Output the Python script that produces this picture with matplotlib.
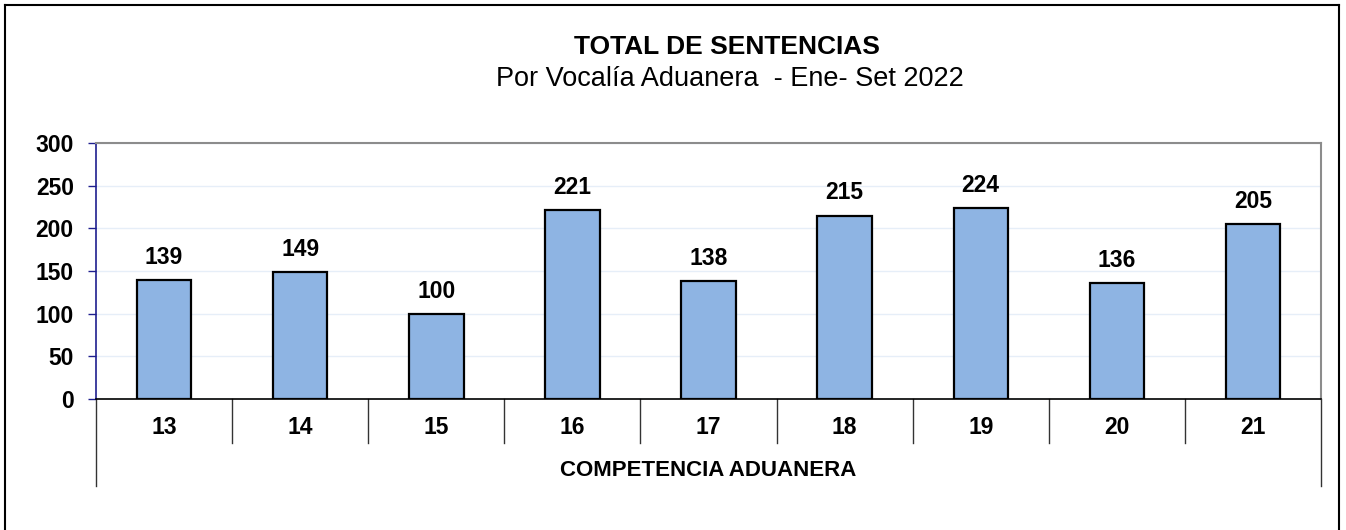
import matplotlib
matplotlib.use('Agg')
import matplotlib.pyplot as plt
import matplotlib.transforms as mtransforms
from matplotlib.lines import Line2D
import numpy as np

plt.rcParams['font.family'] = ['Liberation Sans', 'DejaVu Sans']

# data
categories = ['13', '14', '15', '16', '17', '18', '19', '20', '21']
sentencias = [139, 149, 100, 221, 138, 215, 224, 136, 205]
title = 'TOTAL DE SENTENCIAS'
subtitle = 'Por Vocalía Aduanera  - Ene- Set 2022'
xlabel = 'COMPETENCIA ADUANERA'
yticks = [0, 50, 100, 150, 200, 250, 300]

W, H = 1346, 530
fig = plt.figure(figsize=(W / 100, H / 100), dpi=100)

# plot area in pixel coords
left, right, top, bottom = 96, 1321, 143, 399
ax = fig.add_axes([left / W, 1 - bottom / H, (right - left) / W, (bottom - top) / H])

x = np.arange(len(categories))
ax.bar(x, sentencias, width=0.4, color='#8EB4E3', edgecolor='black', linewidth=1.6, zorder=3)
for xi, v in zip(x, sentencias):
    ax.text(xi, v + 13, str(v), ha='center', va='bottom', fontsize=16.5, fontweight='bold')

ax.set_xlim(-0.5, len(categories) - 0.5)
ax.set_ylim(0, 300)
ax.set_yticks(yticks)
ax.set_yticklabels([str(t) for t in yticks], fontsize=16.5, fontweight='bold')
ax.tick_params(axis='y', direction='out', length=6, width=1, color='#1F1F8F', pad=10)
ax.set_xticks([])
ax.grid(axis='y', color='#E6EEF8', linewidth=1, zorder=0)

ax.spines['left'].set_color('#1F1F8F')
ax.spines['left'].set_linewidth(1.2)
ax.spines['top'].set_color('#8C8C8C')
ax.spines['right'].set_color('#8C8C8C')
ax.spines['top'].set_linewidth(1.5)
ax.spines['right'].set_linewidth(1.5)
ax.spines['bottom'].set_color('black')
ax.spines['bottom'].set_linewidth(1.2)

# category table below axis
trans = mtransforms.blended_transform_factory(ax.transData, ax.transAxes)
plot_h = bottom - top
sep_low = -(443 - bottom) / plot_h
outer_low = -(486 - bottom) / plot_h
for b in np.arange(0.5, len(categories) - 1, 1.0):
    ax.add_line(Line2D([b, b], [0, sep_low], transform=trans, color='#333333', linewidth=1, clip_on=False))
for b in [-0.5, len(categories) - 0.5]:
    ax.add_line(Line2D([b, b], [0, outer_low], transform=trans, color='#333333', linewidth=1, clip_on=False))
for xi, c in zip(x, categories):
    ax.text(xi, -(427 - bottom) / plot_h, c, transform=trans, ha='center', va='center',
            fontsize=16.5, fontweight='bold')
ax.text(0.5, -(470 - bottom) / plot_h, xlabel, transform=ax.transAxes, ha='center', va='center',
        fontsize=16, fontweight='bold')

# titles
fig.text(727 / W, 1 - 47 / H, title, ha='center', va='center', fontsize=19, fontweight='bold')
fig.text(730 / W, 1 - 79 / H, subtitle, ha='center', va='center', fontsize=19.5)

# outer chart frame
fig.add_artist(Line2D([5 / W, 5 / W], [0, 1 - 5 / H], transform=fig.transFigure, color='black', linewidth=1.5))
fig.add_artist(Line2D([1339 / W, 1339 / W], [0, 1 - 5 / H], transform=fig.transFigure, color='black', linewidth=1.5))
fig.add_artist(Line2D([5 / W, 1339 / W], [1 - 5 / H, 1 - 5 / H], transform=fig.transFigure, color='black', linewidth=1.5))

fig.savefig('out.png', dpi=100)
